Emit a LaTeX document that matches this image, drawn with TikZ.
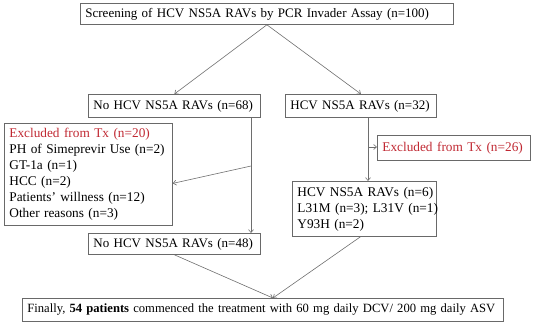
\documentclass[tikz,border=0pt]{standalone}
\usepackage{fontspec}
\setmainfont{Liberation Serif}
\usetikzlibrary{arrows.meta}
\definecolor{exred}{RGB}{192,40,50}
\definecolor{boxgray}{RGB}{105,105,105}
\definecolor{linegray}{RGB}{110,110,110}
\begin{document}
\begin{tikzpicture}[x=1pt,y=-1pt, font=\fontsize{13}{16}\selectfont,
 box/.style={draw=boxgray, line width=0.8pt, anchor=north west, inner xsep=5pt, inner ysep=0pt, align=left},
 big/.style={font=\fontsize{13.3}{16}\selectfont},
 conn/.style={draw=linegray, line width=0.6pt, -{Straight Barb[length=3pt,width=5pt]}}]
\useasboundingbox (0,0) rectangle (534,326);
\node[box, text width=363pt, minimum height=21pt] (top) at (80,3) {\mbox{Screening of HCV NS5A RAVs by PCR Invader Assay (n=100)}};
\node[box, text width=162pt, minimum height=23pt] (L68) at (88,94) {\mbox{No HCV NS5A RAVs (n=68)}};
\node[box, text width=141pt, minimum height=23pt] (R32) at (285,94) {\mbox{HCV NS5A RAVs (n=32)}};
\node[box, big, text width=158pt, minimum height=102pt] (exL) at (4,123) {\mbox{\textcolor{exred}{Excluded from Tx (n=20)}}\\\mbox{PH of Simeprevir Use (n=2)}\\\mbox{GT-1a (n=1)}\\\mbox{HCC (n=2)}\\\mbox{Patients' willness (n=12)}\\\mbox{Other reasons (n=3)}};
\node[box, big, text width=143pt, minimum height=25pt] (exR) at (377,135) {\mbox{\textcolor{exred}{Excluded from Tx (n=26)}}};
\node[box, big, text width=134pt, minimum height=55pt] (R6) at (292,181) {\mbox{HCV NS5A RAVs (n=6)}\\\mbox{L31M (n=3); L31V (n=1)}\\\mbox{Y93H (n=2)}};
\node[box, text width=162pt, minimum height=21pt] (L48) at (88,233) {\mbox{No HCV NS5A RAVs (n=48)}};
\node[box, font=\fontsize{12.6}{16}\selectfont, text width=471pt, minimum height=23pt] (fin) at (22,298) {\mbox{Finally, \textbf{54 patients} commenced the treatment with 60 mg daily DCV/ 200 mg daily ASV}};
\coordinate (jL) at (251,166);
\coordinate (jR) at (368,147);
\draw[conn] (top.south) -- (L68.north);
\draw[conn] (top.south) -- (R32.north);
\draw[conn] (L68.south -| jL) -- (L48.north -| jL);
\draw[conn] (jL) -- ([yshift=-9pt]exL.east);
\draw[conn] (R32.south -| jR) -- (R6.north -| jR);
\draw[conn] (jR) -- (exR.west |- jR);
\draw[conn] (L48.south) -- ([xshift=10pt]fin.north);
\draw[conn] ([xshift=-4pt]R6.south) -- ([xshift=10pt]fin.north);
\end{tikzpicture}
\end{document}
